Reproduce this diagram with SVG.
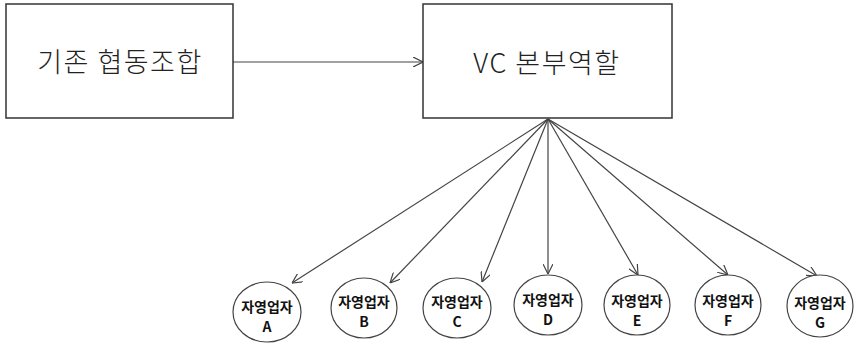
<svg xmlns="http://www.w3.org/2000/svg" width="856" height="344" viewBox="0 0 856 344">
<style>
.box{fill:#fff;stroke:#333;stroke-width:1.5}
.btxt{font-family:"Noto Sans CJK KR","Noto Sans",sans-serif;font-size:27px;font-weight:300;letter-spacing:1.5px;fill:#222;text-anchor:middle}
.node{fill:#fff;stroke:#444;stroke-width:1.2}
.ntxt{font-family:"Noto Sans CJK KR","Noto Sans",sans-serif;font-size:14px;font-weight:bold;fill:#111;text-anchor:middle}
.edge{stroke:#444;stroke-width:1.2;fill:none;marker-end:url(#arr)}
</style>
<defs>
<marker id="arr" viewBox="0 0 10 10" refX="10" refY="5" markerWidth="10" markerHeight="10" markerUnits="userSpaceOnUse" orient="auto">
<path d="M0,0 L10,5 L0,10" fill="none" stroke="#444" stroke-width="1.2"/>
</marker>
</defs>
<g id="edges">
<line class="edge" x1="233" y1="62" x2="423" y2="62"/>
<line class="edge" x1="548" y1="119" x2="292" y2="283"/>
<line class="edge" x1="548" y1="119" x2="390" y2="283"/>
<line class="edge" x1="548" y1="119" x2="482" y2="282"/>
<line class="edge" x1="548" y1="119" x2="548" y2="274"/>
<line class="edge" x1="548" y1="119" x2="638" y2="275"/>
<line class="edge" x1="548" y1="119" x2="728" y2="275"/>
<line class="edge" x1="548" y1="119" x2="817" y2="276"/>
</g>
<g id="n-existing">
<rect class="box" x="6" y="4" width="227" height="114"/>
<text class="btxt" x="120" y="72">기존 협동조합</text>
</g>
<g id="n-vc">
<rect class="box" x="423" y="4" width="249" height="114"/>
<text class="btxt" x="547" y="73">VC 본부역할</text>
</g>
<g id="n-a"><ellipse class="node" cx="267" cy="312" rx="34" ry="30"/><text class="ntxt" x="267" y="312">자영업자</text><text class="ntxt" x="267" y="332">A</text></g>
<g id="n-b"><ellipse class="node" cx="364" cy="308" rx="33" ry="30"/><text class="ntxt" x="364" y="307">자영업자</text><text class="ntxt" x="364" y="327">B</text></g>
<g id="n-c"><ellipse class="node" cx="457" cy="308" rx="34" ry="30"/><text class="ntxt" x="457" y="307">자영업자</text><text class="ntxt" x="457" y="327">C</text></g>
<g id="n-d"><ellipse class="node" cx="548" cy="305" rx="34" ry="30"/><text class="ntxt" x="548" y="305">자영업자</text><text class="ntxt" x="548" y="325">D</text></g>
<g id="n-e"><ellipse class="node" cx="637" cy="305" rx="33" ry="30"/><text class="ntxt" x="637" y="306">자영업자</text><text class="ntxt" x="637" y="326">E</text></g>
<g id="n-f"><ellipse class="node" cx="728" cy="305" rx="33" ry="30"/><text class="ntxt" x="728" y="306">자영업자</text><text class="ntxt" x="728" y="326">F</text></g>
<g id="n-g"><ellipse class="node" cx="820" cy="306" rx="33" ry="31"/><text class="ntxt" x="820" y="308">자영업자</text><text class="ntxt" x="820" y="328">G</text></g>
</svg>
